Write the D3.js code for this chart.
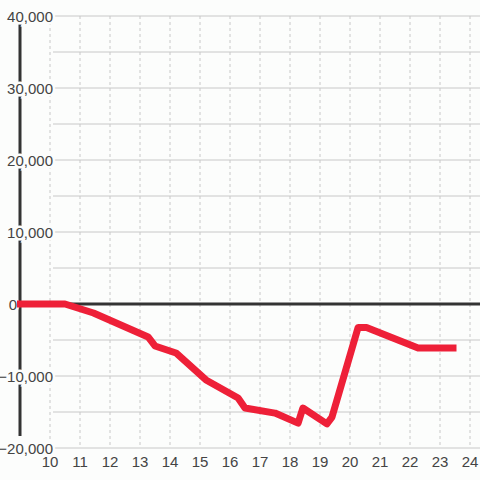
<!DOCTYPE html>
<html>
<head>
<meta charset="utf-8">
<script src="https://cdn.jsdelivr.net/npm/d3@7"></script>
<style>
  html, body { margin: 0; padding: 0; background: #fcfdfc; }
  svg { display: block; font-family: "Liberation Sans", Arial, sans-serif; }
</style>
</head>
<body>
<div id="chart"></div>
<script>
// hour of day vs cumulative value
const hours = [8.9, 10.5, 11.45, 13.27, 13.5, 14.2, 15.2, 16.27, 16.5, 17.5, 18.27, 18.43, 19.23, 19.4, 20.27, 20.55, 22.27, 23.55];
const values = [0, 0, -1250, -4580, -5830, -6800, -10550, -13050, -14450, -15150, -16550, -14450, -16650, -15700, -3250, -3250, -6100, -6100];
const xTicks = [10, 11, 12, 13, 14, 15, 16, 17, 18, 19, 20, 21, 22, 23, 24];
const yLabels = [40000, 30000, 20000, 10000, 0, -10000, -20000];
const yGrid = d3.range(-20000, 40001, 5000);

const width = 480, height = 480;
const bg = '#fcfdfc';

const svg = d3.select('#chart').append('svg')
  .attr('width', width)
  .attr('height', height);

svg.append('rect').attr('width', width).attr('height', height).attr('fill', bg);

const x = d3.scaleLinear().domain([9, 24]).range([20, 470]);
const y = d3.scaleLinear().domain([-20000, 40000]).range([448, 16]);

// horizontal grid
svg.append('g')
  .selectAll('line')
  .data(yGrid)
  .enter()
  .append('line')
  .attr('x1', 53)
  .attr('x2', width)
  .attr('y1', d => y(d))
  .attr('y2', d => y(d))
  .attr('stroke', '#c8c8c8')
  .attr('stroke-width', 1);

// vertical dashed grid
svg.append('g')
  .selectAll('line')
  .data(xTicks)
  .enter()
  .append('line')
  .attr('x1', d => x(d))
  .attr('x2', d => x(d))
  .attr('y1', y(40000))
  .attr('y2', y(-20000))
  .attr('stroke', '#c8c8c8')
  .attr('stroke-width', 1)
  .attr('stroke-dasharray', '3,3');

// y axis line
svg.append('line')
  .attr('x1', x(9)).attr('x2', x(9))
  .attr('y1', 24).attr('y2', 436)
  .attr('stroke', '#333')
  .attr('stroke-width', 3);

// zero line
svg.append('line')
  .attr('x1', x(9)).attr('x2', width)
  .attr('y1', y(0)).attr('y2', y(0))
  .attr('stroke', '#333')
  .attr('stroke-width', 3);

// y labels with halo; the zero label sits left of the axis
svg.append('g')
  .selectAll('text')
  .data(yLabels)
  .enter()
  .append('text')
  .attr('x', d => d === 0 ? 17 : 53)
  .attr('y', d => y(d))
  .attr('dy', '0.4em')
  .attr('text-anchor', 'end')
  .attr('font-size', 15)
  .attr('fill', '#444')
  .attr('stroke', bg)
  .attr('stroke-width', 5)
  .attr('paint-order', 'stroke')
  .text(d => d3.format(',')(d));

// x labels
svg.append('g')
  .selectAll('text')
  .data(xTicks)
  .enter()
  .append('text')
  .attr('x', d => x(d))
  .attr('y', 467)
  .attr('text-anchor', 'middle')
  .attr('font-size', 15)
  .attr('fill', '#444')
  .text(d => d);

// data line
const data = hours.map((h, i) => ({ h, v: values[i] }));
const line = d3.line()
  .x(d => x(d.h))
  .y(d => y(d.v));

svg.append('path')
  .datum(data)
  .attr('d', line)
  .attr('fill', 'none')
  .attr('stroke', '#ee2038')
  .attr('stroke-width', 7)
  .attr('stroke-linejoin', 'round');
</script>
</body>
</html>
